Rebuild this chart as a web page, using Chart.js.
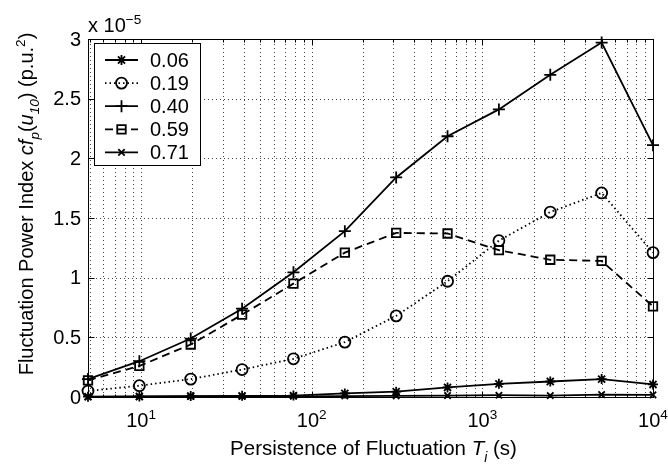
<!DOCTYPE html>
<html><head><meta charset="utf-8">
<script src="https://cdn.jsdelivr.net/npm/chart.js@4"></script>
<style>html,body{margin:0;padding:0;background:#fff}#wrap{width:668px;height:466px}</style>
</head><body><div id="wrap"><canvas id="c" width="668" height="466"></canvas></div>
<script>
// Data (values in units of 1e-5 p.u.^2)
const xValues = [4.883, 9.766, 19.53, 39.06, 78.13, 156.3, 312.5, 625, 1250, 2500, 5000, 10000];
const s006 = [0.003, 0.004, 0.008, 0.01, 0.012, 0.03, 0.045, 0.08, 0.11, 0.13, 0.15, 0.105];
const s019 = [0.05, 0.095, 0.15, 0.23, 0.32, 0.46, 0.68, 0.97, 1.31, 1.55, 1.71, 1.21];
const s040 = [0.15, 0.30, 0.49, 0.74, 1.045, 1.39, 1.84, 2.185, 2.41, 2.70, 2.97, 2.11];
const s059 = [0.14, 0.26, 0.44, 0.69, 0.95, 1.21, 1.375, 1.37, 1.23, 1.15, 1.14, 0.76];
const s071 = [0.0, 0.003, 0.004, 0.005, 0.006, 0.008, 0.01, 0.012, 0.015, 0.012, 0.02, 0.018];
const seriesLabels = ['0.06', '0.19', '0.40', '0.59', '0.71'];
const yTicks = [0, 0.5, 1, 1.5, 2, 2.5, 3];
const yTickLabels = ['0', '0.5', '1', '1.5', '2', '2.5', '3'];
const xMajorTicks = [10, 100, 1000, 10000];
const xTickExponents = ['1', '2', '3', '4'];
const yScaleExponent = '\u22125';

const FONT = '"Liberation Sans", Arial, Helvetica, sans-serif';
const LW = 1.8;
const styles = [
  {dash: [], pt: 'star', r: 5},
  {dash: [1.5, 3], pt: 'circle', r: 5.5},
  {dash: [], pt: 'cross', r: 6},
  {dash: [8, 5], pt: 'rect', r: 6},
  {dash: [], pt: 'crossRot', r: 4.5}
];
const seriesData = [s006, s019, s040, s059, s071];

const datasets = seriesData.map((arr, i) => ({
  label: seriesLabels[i],
  data: xValues.map((x, j) => ({x: x, y: arr[j]})),
  borderColor: '#000',
  borderWidth: LW,
  borderDash: styles[i].dash,
  pointStyle: styles[i].pt,
  pointRadius: styles[i].r,
  pointBorderColor: '#000',
  pointBackgroundColor: 'rgba(0,0,0,0)',
  pointBorderWidth: LW,
  tension: 0,
  clip: false,
  fill: false
}));

function font(size, italic) { return (italic ? 'italic ' : '') + size + 'px ' + FONT; }

function richWidth(ctx, segs, base) {
  let w = 0;
  segs.forEach(s => {
    const sz = (s.sub || s.sup) ? base * 0.68 : base;
    ctx.font = font(sz, s.it);
    w += ctx.measureText(s.t).width;
  });
  return w;
}
function drawRich(ctx, segs, x, y, base, align) {
  const w = richWidth(ctx, segs, base);
  let cx = align === 'center' ? x - w / 2 : (align === 'right' ? x - w : x);
  ctx.textAlign = 'left';
  ctx.textBaseline = 'alphabetic';
  segs.forEach(s => {
    const sz = (s.sub || s.sup) ? base * 0.68 : base;
    ctx.font = font(sz, s.it);
    let dy = 0;
    if (s.sub) dy = base * 0.32;
    if (s.sup) dy = -base * 0.42;
    ctx.fillText(s.t, cx, y + dy);
    cx += ctx.measureText(s.t).width;
  });
}

const matlabAxes = {
  id: 'matlabAxes',
  beforeDatasetsDraw(chart) {
    const ctx = chart.ctx, a = chart.chartArea;
    const xs = chart.scales.x, ys = chart.scales.y;
    ctx.save();
    ctx.strokeStyle = '#444';
    ctx.lineWidth = 1;
    ctx.setLineDash([1, 3]);
    for (let d = 0; d <= 4; d++) {
      for (let m = 1; m <= 9; m++) {
        const v = m * Math.pow(10, d);
        if (v <= xs.min || v >= xs.max) continue;
        const px = Math.round(xs.getPixelForValue(v)) + 0.5;
        ctx.beginPath(); ctx.moveTo(px, a.bottom); ctx.lineTo(px, a.top); ctx.stroke();
      }
    }
    yTicks.forEach(v => {
      if (v <= ys.min || v >= ys.max) return;
      const py = Math.round(ys.getPixelForValue(v)) + 0.5;
      ctx.beginPath(); ctx.moveTo(a.left, py); ctx.lineTo(a.right, py); ctx.stroke();
    });
    ctx.restore();
  },
  afterDatasetsDraw(chart) {
    const ctx = chart.ctx, a = chart.chartArea;
    const xs = chart.scales.x, ys = chart.scales.y;
    ctx.save();
    ctx.setLineDash([]);
    ctx.strokeStyle = '#000';
    ctx.fillStyle = '#000';
    ctx.lineWidth = 1;
    const L = Math.round(a.left) + 0.5, R = Math.round(a.right) + 0.5;
    const T = Math.round(a.top) + 0.5, B = Math.round(a.bottom) + 0.5;
    ctx.strokeRect(L, T, R - L, B - T);
    for (let d = 0; d <= 4; d++) {
      for (let m = 1; m <= 9; m++) {
        const v = m * Math.pow(10, d);
        if (v < xs.min || v > xs.max) continue;
        const px = Math.round(xs.getPixelForValue(v)) + 0.5;
        const len = m === 1 ? 6 : 3;
        ctx.beginPath();
        ctx.moveTo(px, B); ctx.lineTo(px, B - len);
        ctx.moveTo(px, T); ctx.lineTo(px, T + len);
        ctx.stroke();
      }
    }
    yTicks.forEach(v => {
      const py = Math.round(ys.getPixelForValue(v)) + 0.5;
      ctx.beginPath();
      ctx.moveTo(L, py); ctx.lineTo(L + 6, py);
      ctx.moveTo(R, py); ctx.lineTo(R - 6, py);
      ctx.stroke();
    });
    ctx.font = font(20);
    ctx.textAlign = 'right';
    ctx.textBaseline = 'middle';
    yTicks.forEach((v, i) => {
      ctx.fillText(yTickLabels[i], a.left - 7, ys.getPixelForValue(v) + 1);
    });
    xMajorTicks.forEach((v, i) => {
      const px = xs.getPixelForValue(v);
      drawRich(ctx, [{t: '10'}, {t: xTickExponents[i], sup: true}], px, a.bottom + 30, 20, 'center');
    });
    drawRich(ctx, [{t: 'x 10'}, {t: yScaleExponent, sup: true}], a.left, a.top - 7, 20, 'left');
    drawRich(ctx, [{t: 'Persistence of Fluctuation '}, {t: 'T', it: true}, {t: 'i', it: true, sub: true}, {t: ' (s)'}],
      (a.left + a.right) / 2 + 3, 455, 20.5, 'center');
    ctx.save();
    ctx.translate(33, 204);
    ctx.rotate(-Math.PI / 2);
    drawRich(ctx, [
      {t: 'Fluctuation Power Index '}, {t: 'cf', it: true}, {t: 'p', it: true, sub: true},
      {t: '('}, {t: 'u', it: true}, {t: '10', it: true, sub: true}, {t: ') (p.u.'}, {t: '2', sup: true}, {t: ')'}
    ], 0, 0, 20, 'center');
    ctx.restore();
    // legend
    const lx = 94.5, ly = 43.5, lw = 106, lh = 122;
    ctx.fillStyle = '#fff';
    ctx.fillRect(lx, ly, lw, lh);
    ctx.strokeStyle = '#000';
    ctx.lineWidth = 1;
    ctx.strokeRect(lx, ly, lw, lh);
    chart.data.datasets.forEach((ds, i) => {
      const cy = 60 + i * 23.1;
      ctx.save();
      ctx.lineWidth = LW;
      ctx.strokeStyle = '#000';
      ctx.setLineDash(ds.borderDash || []);
      ctx.beginPath(); ctx.moveTo(105, cy); ctx.lineTo(138, cy); ctx.stroke();
      ctx.restore();
      ctx.save();
      ctx.lineWidth = LW;
      ctx.strokeStyle = '#000';
      ctx.fillStyle = 'rgba(0,0,0,0)';
      Chart.helpers.drawPoint(ctx, {pointStyle: ds.pointStyle, radius: ds.pointRadius, rotation: 0, borderWidth: LW}, 121.5, cy);
      ctx.restore();
      ctx.fillStyle = '#000';
      ctx.font = font(20);
      ctx.textAlign = 'left';
      ctx.textBaseline = 'middle';
      ctx.fillText(ds.label, 150, cy + 1);
    });
    ctx.restore();
  }
};

new Chart(document.getElementById('c'), {
  type: 'line',
  data: {datasets: datasets},
  options: {
    responsive: false,
    animation: false,
    devicePixelRatio: 1,
    layout: {padding: {top: 39, right: 15, left: 0, bottom: 0}},
    plugins: {legend: {display: false}, tooltip: {enabled: false}},
    scales: {
      x: {
        type: 'logarithmic', min: 4.883, max: 10000,
        grid: {display: false}, ticks: {display: false}, border: {display: false},
        afterFit: s => { s.height = 69; }
      },
      y: {
        type: 'linear', min: 0, max: 3,
        grid: {display: false}, ticks: {display: false}, border: {display: false},
        afterFit: s => { s.width = 88; }
      }
    }
  },
  plugins: [matlabAxes]
});
</script>
</body></html>
